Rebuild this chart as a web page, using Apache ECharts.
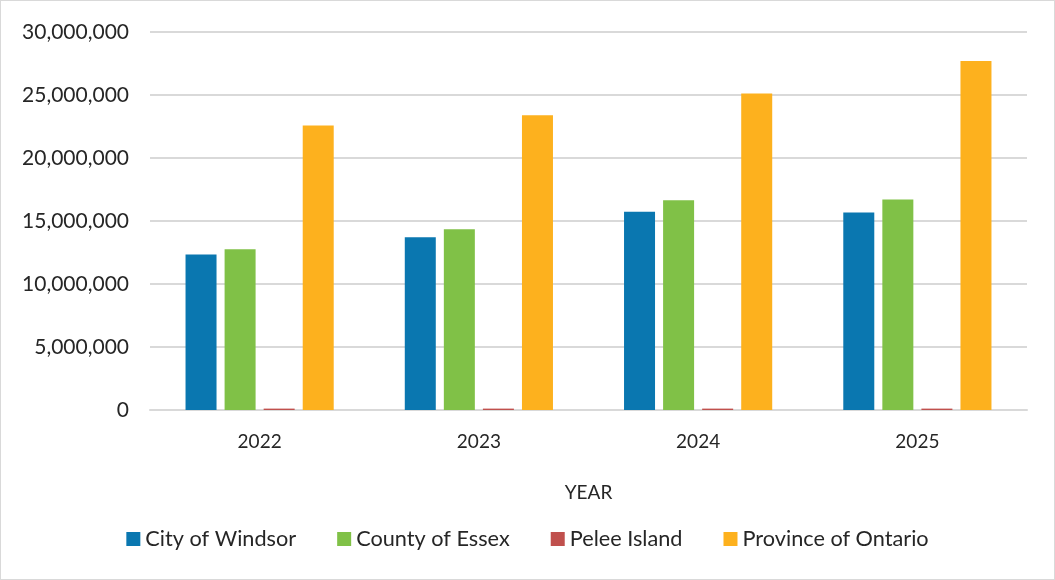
<!DOCTYPE html>
<html><head><meta charset="utf-8">
<script src="https://cdn.jsdelivr.net/npm/echarts@6/dist/echarts.min.js"></script>
<style>html,body{margin:0;padding:0;background:#fff}#c{width:1055px;height:580px;box-sizing:border-box;border:1px solid #d9d9d9}</style>
</head><body><div id="c"></div>
<script>
const years = ['2022','2023','2024','2025'];
const seriesNames = ['City of Windsor','County of Essex','Pelee Island','Province of Ontario'];
const windsor = [12350000, 13720000, 15730000, 15680000];
const essex = [12750000, 14350000, 16650000, 16700000];
const pelee = [110000, 110000, 110000, 110000];
const ontario = [22580000, 23400000, 25120000, 27700000];
const colors = ['#0a77b0','#80c147','#c0504d','#fdb11e'];
const values = [windsor, essex, pelee, ontario];

const chart = echarts.init(document.getElementById('c'), null, {renderer:'canvas'});
const font = 'Lato, "Open Sans", sans-serif';
const txt = '#262626';
chart.setOption({
  animation:false,
  textStyle:{fontFamily:font},
  grid:{left:149, right:27, top:31, bottom:169, containLabel:false},
  legend:{
    bottom:24, left:'center', itemWidth:14, itemHeight:14, itemGap:41,
    icon:'rect',
    textStyle:{fontSize:21.7, color:txt, fontFamily:font},
    data:seriesNames
  },
  xAxis:{
    type:'category', data:years,
    name:'YEAR', nameLocation:'middle', nameGap:73,
    nameTextStyle:{fontSize:19, color:txt},
    axisTick:{show:false},
    axisLine:{lineStyle:{color:'#d9d9d9', width:2}},
    axisLabel:{fontSize:19, color:txt, margin:22}
  },
  yAxis:{
    type:'value', min:0, max:30000000, interval:5000000,
    axisLabel:{fontSize:21, color:txt, margin:21,
      formatter:v=>v.toLocaleString('en-US')},
    splitLine:{lineStyle:{color:'#d9d9d9', width:2}},
    axisLine:{show:false}, axisTick:{show:false}
  },
  series: seriesNames.map((n,i)=>({
    name:n, type:'bar', data:values[i],
    barWidth:31, barGap:'26%',
    itemStyle:{color:colors[i]}
  }))
});
</script></body></html>
